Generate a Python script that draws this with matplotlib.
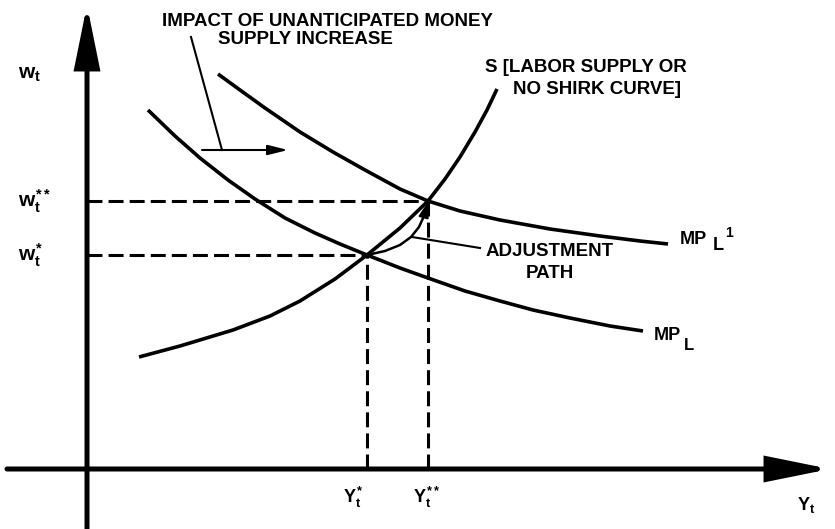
import matplotlib
matplotlib.use("Agg")
import matplotlib.pyplot as plt

# fonts: bold helvetica-like everywhere, mathtext too
plt.rcParams['font.family'] = ['Liberation Sans', 'DejaVu Sans']
plt.rcParams['font.weight'] = 'bold'
plt.rcParams['mathtext.fontset'] = 'custom'
plt.rcParams['mathtext.rm'] = 'Liberation Sans:bold'
plt.rcParams['mathtext.it'] = 'Liberation Sans:bold'
plt.rcParams['mathtext.bf'] = 'Liberation Sans:bold'

# curves (x = output/labour, y = wage)
mpl_x = [61, 88, 113, 141, 168, 198, 228, 253, 280, 313, 341, 378, 413, 446, 483, 523, 556]
mpl_y = [359, 333, 311, 289, 270, 251, 236, 225, 214, 201, 191, 178, 168, 159, 151, 143, 138]

mpl1_x = [131, 153, 178, 213, 246, 278, 313, 341, 373, 413, 463, 513, 553, 581]
mpl1_y = [395, 379, 361, 337, 317, 299, 280, 268, 258, 249, 240, 233, 228, 225]

s_x = [52, 93, 146, 183, 213, 248, 280, 313, 341, 358, 373, 388, 400, 410]
s_y = [112, 123, 139, 153, 168, 190, 214, 241, 268, 290, 312, 337, 359, 380]

path_x = [280, 298, 313, 324, 332, 337, 340]
path_y = [214, 218, 224, 232, 242, 253, 263]

# equilibria
y_star, w_star = 280, 214
y_2star, w_2star = 341, 268

fig = plt.figure(figsize=(8.35, 5.29), dpi=100)
ax = fig.add_axes([0, 0, 1, 1])
ax.set_xlim(-87, 748)
ax.set_ylim(-60, 469)
ax.axis('off')

# axes with big arrowheads
axis_style = '-|>,head_length=37,head_width=7.5'
ax.annotate('', xy=(0, 464), xytext=(0, -62),
            arrowprops=dict(arrowstyle=axis_style, mutation_scale=1, lw=3.6,
                            color='black', shrinkA=0, shrinkB=0, joinstyle='miter'))
ax.annotate('', xy=(743, 0), xytext=(-80, 0),
            arrowprops=dict(arrowstyle=axis_style, mutation_scale=1, lw=3.6,
                            color='black', shrinkA=0, shrinkB=0, joinstyle='miter'))

# curves
kw = dict(color='black', lw=2.6, solid_capstyle='butt', solid_joinstyle='round')
ax.plot(mpl_x, mpl_y, **kw)
ax.plot(mpl1_x, mpl1_y, **kw)
ax.plot(s_x, s_y, **kw)

# dashed guide lines
dkw = dict(color='black', lw=2.2, linestyle=(0, (4.9, 2.0)), dash_capstyle='butt')
ax.plot([0, y_star], [w_star, w_star], **dkw)
ax.plot([0, y_2star], [w_2star, w_2star], **dkw)
ax.plot([y_star, y_star], [0, w_star], **dkw)
ax.plot([y_2star, y_2star], [0, w_2star], **dkw)

# adjustment path with arrow
ax.plot(path_x, path_y, color='black', lw=1.8)
ax.annotate('', xy=(y_2star, w_2star - 1), xytext=(path_x[-2], path_y[-2]),
            arrowprops=dict(arrowstyle='-|>,head_length=9,head_width=3', mutation_scale=1,
                            lw=1.5, color='black', shrinkA=0, shrinkB=0))
ax.plot([325, 393], [232, 221], color='black', lw=1.5)

# impact pointer + shift arrow
ax.plot([104, 135], [432, 319], color='black', lw=1.5)
ax.annotate('', xy=(201, 319), xytext=(115, 319),
            arrowprops=dict(arrowstyle='-|>,head_length=12,head_width=3', mutation_scale=1,
                            lw=1.5, color='black', shrinkA=0, shrinkB=0))

# text
fs = 13.5
ax.text(240, 447, 'IMPACT OF UNANTICIPATED MONEY', fontsize=fs, ha='center', va='center')
ax.text(218, 429, 'SUPPLY INCREASE', fontsize=fs, ha='center', va='center')
ax.text(398, 401, 'S [LABOR SUPPLY OR', fontsize=fs, ha='left', va='center')
ax.text(426, 379, 'NO SHIRK CURVE]', fontsize=fs, ha='left', va='center')
ax.text(463, 217, 'ADJUSTMENT', fontsize=fs, ha='center', va='center')
ax.text(463, 195, 'PATH', fontsize=fs, ha='center', va='center')

ax.text(593, 229, 'MP', fontsize=13, ha='left', va='center')
ax.text(626, 224, 'L', fontsize=13, ha='left', va='center')
ax.text(638, 236, '1', fontsize=10, ha='left', va='center')
ax.text(567, 133, 'MP', fontsize=13, ha='left', va='center')
ax.text(597, 124, 'L', fontsize=12, ha='left', va='center')

ax.text(-69, 394, r'$w_t$', fontsize=15, ha='left', va='center')
ax.text(-69, w_2star, r'$w_t^{**}$', fontsize=15, ha='left', va='center')
ax.text(-69, w_star, r'$w_t^{*}$', fontsize=15, ha='left', va='center')
ax.text(y_star - 24, -28, r'$Y_t^{*}$', fontsize=13, ha='left', va='center')
ax.text(y_2star - 15, -28, r'$Y_t^{**}$', fontsize=13, ha='left', va='center')
ax.text(710, -36, r'$Y_t$', fontsize=13, ha='left', va='center')

fig.savefig('out.png', dpi=100, facecolor='white')
